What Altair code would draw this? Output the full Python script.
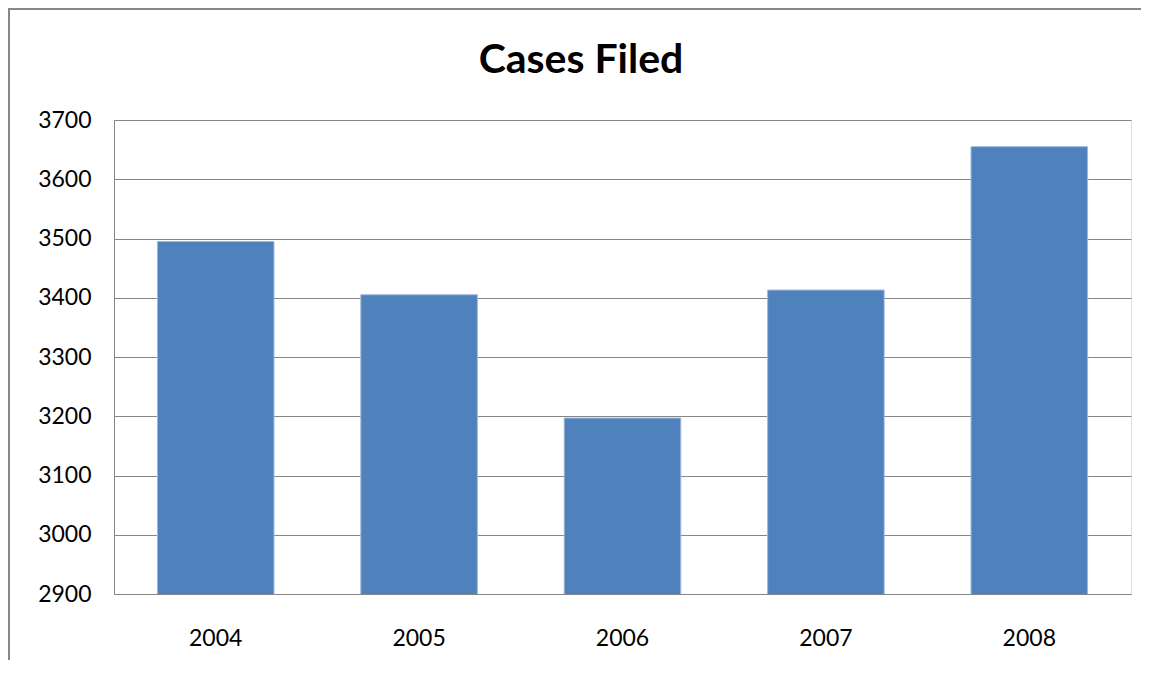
import altair as alt
import pandas as pd

years = ["2004", "2005", "2006", "2007", "2008"]
cases = [3495, 3405, 3197, 3413, 3655]
y_ticks = [2900, 3000, 3100, 3200, 3300, 3400, 3500, 3600, 3700]
title_text = ["Cases Filed"]

df = pd.DataFrame({"year": years, "cases": cases})
tdf = pd.DataFrame({"t": title_text})

W, H = 1017, 474
PL, PT = 106, 112

bars = alt.Chart(df).mark_bar(
    color="#4F81BD", stroke="#9DB9DC", strokeWidth=1, clip=True
).encode(
    x=alt.X("year:N", sort=years, title=None,
            scale=alt.Scale(paddingInner=0.427, paddingOuter=0.2135),
            axis=alt.Axis(labelAngle=0, labelFont="Lato", labelFontSize=23,
                          labelColor="#000000", labelPadding=33, ticks=False,
                          domain=True, domainColor="#868686", domainWidth=1,
                          grid=False)),
    y=alt.Y("cases:Q", title=None,
            scale=alt.Scale(domain=[2900, 3700], nice=False, zero=False),
            axis=alt.Axis(values=y_ticks, format="d", labelFont="Lato",
                          labelFontSize=23, labelColor="#000000",
                          labelPadding=23, ticks=False, domain=True,
                          domainColor="#868686", domainWidth=1,
                          grid=True, gridColor="#868686", gridWidth=1)),
)

# outer chart frame (decoration)
frame_left = alt.Chart(df).mark_rule(color="#868686", strokeWidth=2).encode(
    x=alt.value(-PL + 1), y=alt.value(-PT), y2=alt.value(H + 200)
)
frame_top = alt.Chart(df).mark_rule(color="#868686", strokeWidth=2).encode(
    x=alt.value(-PL + 1), x2=alt.value(W + 200), y=alt.value(-PT + 1)
)

title = alt.Chart(tdf).mark_text(
    font="Lato", fontSize=41, fontWeight="bold", color="#000000",
    align="center", baseline="alphabetic"
).encode(text="t:N", x=alt.value(467), y=alt.value(-47))

chart = alt.layer(bars, frame_left, frame_top, title).properties(
    width=W, height=H,
    autosize=alt.AutoSizeParams(type="none"),
    padding={"left": PL, "top": PT, "right": 10, "bottom": 66},
).configure_view(stroke=None).configure(background="#ffffff")

chart.save("out.html", embed_options={"renderer": "svg", "actions": False})
